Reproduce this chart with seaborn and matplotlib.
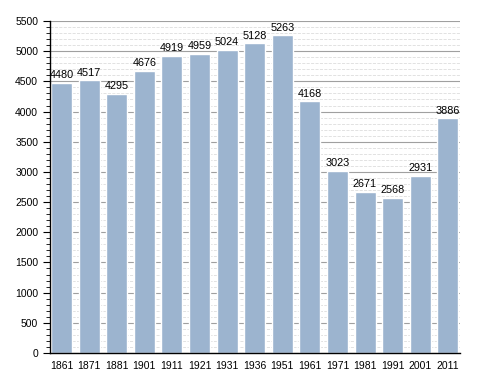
"""
Population bar chart, one bar per census year.
"""

import matplotlib
matplotlib.use("Agg")
import matplotlib.pyplot as plt
from matplotlib.ticker import MultipleLocator
import pandas as pd
import seaborn as sns

years = ["1861", "1871", "1881", "1901", "1911", "1921", "1931", "1936",
         "1951", "1961", "1971", "1981", "1991", "2001", "2011"]
population = [4480, 4517, 4295, 4676, 4919, 4959, 5024, 5128,
              5263, 4168, 3023, 2671, 2568, 2931, 3886]

df = pd.DataFrame({"year": years, "population": population})

sns.set_style("white")
plt.rcParams["font.family"] = ["Liberation Sans", "DejaVu Sans"]
plt.rcParams["text.color"] = "black"
plt.rcParams["xtick.color"] = "black"
plt.rcParams["ytick.color"] = "black"

fig = plt.figure(figsize=(4.88, 3.73), dpi=100)
ax = fig.add_axes([0.1025, 0.0536, 0.8405, 0.8901])

sns.barplot(data=df, x="year", y="population", color="#9cb4cf",
            saturation=1, width=0.76, ax=ax)

for i, v in enumerate(population):
    ax.text(i, v + 45, str(v), ha="center", va="bottom", fontsize=7.8)

ax.set_ylim(0, 5500)
ax.set_xlim(-0.42, 14.45)
ax.yaxis.set_major_locator(MultipleLocator(500))
ax.yaxis.set_minor_locator(MultipleLocator(100))
ax.grid(axis="y", which="major", color="#a0a0a0", linewidth=0.8)
ax.grid(axis="y", which="minor", color="#dddddd", linewidth=0.6, linestyle="--")
ax.set_axisbelow(True)

for s in ["top", "right"]:
    ax.spines[s].set_visible(False)
for s in ["left", "bottom"]:
    ax.spines[s].set_color("black")
    ax.spines[s].set_linewidth(1.0)

ax.tick_params(axis="y", which="major", left=True, length=5, width=0.8,
               labelsize=7.5, color="black")
ax.tick_params(axis="y", which="minor", left=True, length=3, width=0.6,
               color="black")
ax.tick_params(axis="x", bottom=False, labelsize=7.5, pad=2)
ax.set_xlabel("")
ax.set_ylabel("")

fig.savefig("out.png", dpi=100)
